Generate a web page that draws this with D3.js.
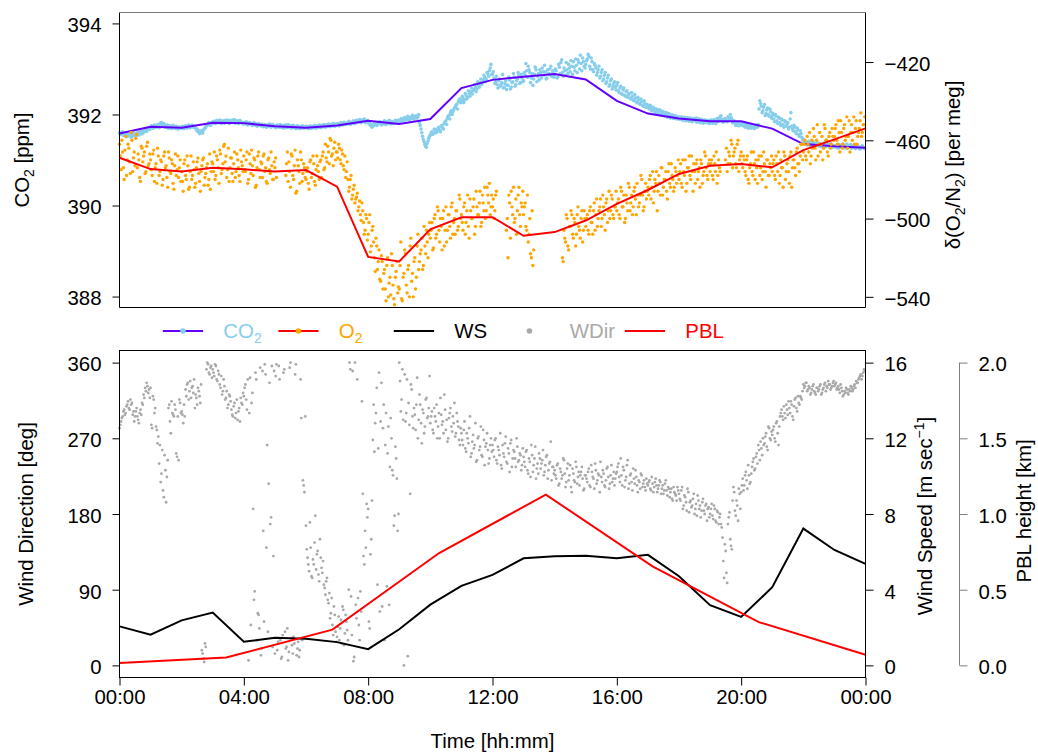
<!DOCTYPE html>
<html>
<head>
<meta charset="utf-8">
<script src="https://cdn.jsdelivr.net/npm/d3@7"></script>
<style>
  body { margin: 0; background: #fff; }
  text { font-family: "Liberation Sans", Arial, Helvetica, sans-serif; }
</style>
</head>
<body>
<svg id="chart" width="1038" height="755"></svg>
<script>
// ---- data -------------------------------------------------------------
// minute series are sampled every 3 minutes starting at 00:00;
// the *Mid arrays hold the readings taken 90 s after each of those samples
const stepMin = 3;
const midOffsetMin = 1.5;

// CO2 mole fraction [ppm]
const co2 = [
391.60,391.58,391.62,391.57,391.55,391.59,391.53,391.56,391.52,391.55,391.58,391.54,391.57,391.61,391.59,391.64,391.62,391.66,391.68,391.70,
391.72,391.74,391.71,391.75,391.73,391.76,391.79,391.82,391.78,391.75,391.73,391.76,391.72,391.74,391.71,391.73,391.70,391.72,391.69,391.71,
391.70,391.73,391.71,391.74,391.72,391.75,391.73,391.76,391.74,391.70,391.68,391.64,391.60,391.62,391.66,391.70,391.75,391.78,391.80,391.79,
391.82,391.84,391.81,391.85,391.83,391.86,391.82,391.84,391.87,391.83,391.85,391.82,391.86,391.84,391.88,391.83,391.85,391.82,391.84,391.81,
391.82,391.80,391.83,391.79,391.81,391.78,391.80,391.77,391.79,391.76,391.78,391.75,391.77,391.74,391.76,391.73,391.75,391.77,391.74,391.76,
391.75,391.73,391.76,391.74,391.72,391.75,391.73,391.76,391.74,391.72,391.75,391.73,391.71,391.74,391.72,391.70,391.73,391.71,391.74,391.72,
391.71,391.73,391.70,391.72,391.74,391.71,391.73,391.75,391.72,391.74,391.76,391.73,391.75,391.77,391.74,391.76,391.78,391.75,391.77,391.79,
391.77,391.79,391.76,391.80,391.78,391.81,391.79,391.82,391.80,391.83,391.81,391.84,391.82,391.85,391.87,391.84,391.88,391.86,391.83,391.85,
391.84,391.82,391.78,391.74,391.79,391.81,391.78,391.82,391.80,391.83,391.79,391.81,391.84,391.80,391.82,391.85,391.81,391.83,391.86,391.84,
391.86,391.89,391.87,391.91,391.88,391.92,391.90,391.94,391.91,391.95,391.93,391.97,391.95,391.82,391.68,391.52,391.40,391.30,391.36,391.48,
391.55,391.62,391.58,391.66,391.61,391.70,391.65,391.74,391.70,391.80,391.86,391.92,391.98,392.04,392.00,392.10,392.16,392.22,392.28,392.34,
392.30,392.36,392.32,392.41,392.38,392.46,392.50,392.45,392.55,392.60,392.56,392.64,392.70,392.66,392.76,392.82,392.78,392.90,392.96,393.10,
392.88,392.80,392.72,392.66,392.74,392.62,392.70,392.58,392.68,392.55,392.64,392.76,392.60,392.72,392.82,392.66,392.78,392.86,392.70,392.80,
392.74,392.86,392.96,393.06,392.92,392.80,392.64,392.88,392.98,392.84,392.76,392.92,393.02,392.86,392.94,392.80,392.90,393.00,392.84,392.96,
392.88,392.96,392.82,393.04,393.14,392.92,393.02,392.86,392.98,393.10,392.94,393.06,393.16,392.96,393.08,393.20,393.00,393.12,393.24,393.06,
393.10,393.22,393.28,393.00,393.16,392.94,393.08,392.86,392.98,392.80,392.92,392.74,392.86,392.68,392.80,392.62,392.74,392.56,392.68,392.60,
392.64,392.52,392.58,392.46,392.54,392.42,392.50,392.38,392.46,392.34,392.40,392.30,392.36,392.26,392.32,392.22,392.28,392.18,392.24,392.16,
392.18,392.12,392.15,392.09,392.13,392.06,392.10,392.04,392.08,392.02,392.05,391.99,392.03,391.97,392.00,391.95,391.98,391.93,391.96,391.92,
391.94,391.90,391.93,391.89,391.92,391.88,391.91,391.87,391.90,391.86,391.89,391.92,391.87,391.90,391.85,391.88,391.84,391.87,391.83,391.86,
391.84,391.87,391.83,391.86,391.82,391.88,391.92,391.97,391.89,391.85,391.88,391.84,391.92,392.00,391.90,391.84,391.80,391.83,391.78,391.81,
391.80,391.76,391.79,391.74,391.77,391.73,391.76,391.72,391.75,391.71,391.74,391.78,392.30,392.18,392.08,392.22,392.02,392.14,391.96,392.06,
391.98,391.90,392.00,391.86,391.94,391.82,391.90,391.78,391.86,391.74,391.82,391.72,392.04,391.68,391.76,391.62,391.70,391.56,391.64,391.50,
391.46,391.40,391.36,391.39,391.34,391.37,391.32,391.36,391.33,391.38,391.31,391.35,391.30,391.34,391.37,391.32,391.35,391.30,391.33,391.29,
391.32,391.28,391.31,391.34,391.29,391.33,391.27,391.30,391.35,391.28,391.31,391.26,391.29,391.33,391.27,391.30,391.25,391.28,391.31,391.27
];
const co2Mid = [
391.56,391.61,391.54,391.59,391.51,391.57,391.55,391.50,391.58,391.53,391.56,391.60,391.55,391.63,391.57,391.61,391.66,391.63,391.71,391.67,
391.75,391.70,391.77,391.72,391.78,391.71,391.81,391.76,391.80,391.72,391.77,391.70,391.75,391.69,391.76,391.70,391.74,391.68,391.73,391.70,
391.74,391.69,391.75,391.70,391.77,391.71,391.76,391.72,391.71,391.66,391.62,391.58,391.64,391.59,391.68,391.73,391.77,391.82,391.76,391.83,
391.85,391.80,391.87,391.82,391.88,391.80,391.86,391.81,391.85,391.88,391.80,391.87,391.83,391.89,391.81,391.86,391.80,391.87,391.83,391.79,
391.79,391.84,391.77,391.82,391.80,391.76,391.82,391.79,391.74,391.80,391.77,391.79,391.73,391.78,391.72,391.77,391.79,391.72,391.78,391.73,
391.71,391.77,391.72,391.78,391.75,391.70,391.77,391.71,391.78,391.73,391.70,391.76,391.74,391.69,391.75,391.73,391.69,391.75,391.70,391.74,
391.74,391.69,391.75,391.70,391.72,391.76,391.70,391.73,391.77,391.71,391.74,391.78,391.72,391.76,391.79,391.73,391.76,391.80,391.74,391.78,
391.80,391.75,391.82,391.77,391.83,391.78,391.80,391.85,391.78,391.82,391.86,391.80,391.87,391.83,391.89,391.82,391.86,391.90,391.82,391.87,
391.80,391.76,391.72,391.77,391.83,391.76,391.80,391.84,391.77,391.81,391.86,391.78,391.82,391.87,391.79,391.84,391.80,391.87,391.82,391.88,
391.84,391.91,391.86,391.93,391.89,391.96,391.88,391.92,391.98,391.90,391.96,391.92,392.00,391.76,391.60,391.45,391.34,391.28,391.42,391.52,
391.60,391.56,391.68,391.60,391.64,391.72,391.62,391.76,391.68,391.84,391.78,391.96,391.90,392.08,392.06,392.14,392.20,392.12,392.32,392.26,
392.40,392.26,392.46,392.34,392.52,392.40,392.58,392.52,392.66,392.50,392.72,392.60,392.78,392.70,392.86,392.72,392.92,392.84,393.02,392.88,
392.94,392.68,392.84,392.58,392.78,392.66,392.88,392.60,392.74,392.64,392.82,392.56,392.70,392.90,392.62,392.74,392.92,392.68,392.88,392.72,
392.92,393.12,392.82,392.98,392.70,392.90,392.78,393.04,392.72,392.90,392.98,392.80,392.94,393.08,392.78,392.98,392.88,393.06,392.92,392.82,
393.00,392.80,393.10,392.90,393.20,392.84,392.96,393.14,392.90,393.02,393.18,392.88,393.04,393.22,392.92,393.14,393.30,392.96,393.16,393.02,
393.18,393.32,393.06,393.24,392.98,393.12,393.02,392.92,393.06,392.84,392.98,392.78,392.92,392.72,392.86,392.66,392.78,392.62,392.72,392.54,
392.70,392.48,392.62,392.44,392.58,392.40,392.52,392.44,392.36,392.48,392.32,392.44,392.28,392.38,392.24,392.34,392.20,392.30,392.16,392.22,
392.14,392.20,392.08,392.16,392.02,392.12,392.00,392.10,391.98,392.07,391.97,392.04,391.94,392.02,391.92,391.99,391.91,391.97,391.90,391.95,
391.89,391.95,391.87,391.94,391.86,391.93,391.85,391.92,391.84,391.91,391.86,391.83,391.90,391.82,391.89,391.81,391.88,391.82,391.87,391.80,
391.88,391.81,391.89,391.80,391.91,391.85,391.95,391.87,391.83,391.91,391.86,391.95,391.88,391.93,391.82,391.86,391.76,391.82,391.75,391.79,
391.77,391.82,391.72,391.78,391.70,391.76,391.70,391.77,391.69,391.76,391.72,392.12,392.24,392.04,392.16,391.98,392.10,392.00,392.12,391.92,
392.02,391.84,391.96,391.80,391.92,391.76,391.88,391.72,391.84,391.78,391.68,391.90,391.74,391.64,391.72,391.58,391.66,391.52,391.58,391.44,
391.42,391.37,391.33,391.41,391.31,391.35,391.39,391.30,391.35,391.32,391.36,391.29,391.33,391.37,391.29,391.34,391.31,391.36,391.28,391.32,
391.29,391.33,391.26,391.32,391.28,391.35,391.30,391.26,391.32,391.29,391.34,391.28,391.32,391.25,391.31,391.28,391.24,391.30,391.27,391.25
];

// delta(O2/N2) [per meg]; null = no measurement
const o2 = [
-462,-475,-466,-480,-458,-470,-464,-477,-460,-469,-473,-457,-467,-479,-463,-471,-466,-476,-461,-472,
-470,-478,-465,-474,-482,-468,-476,-471,-480,-466,-473,-484,-469,-477,-472,-485,-467,-475,-479,-470,
-476,-486,-470,-480,-473,-484,-468,-478,-475,-482,-471,-477,-486,-473,-469,-479,-474,-483,-467,-476,
-472,-466,-478,-470,-482,-467,-475,-463,-471,-479,-464,-474,-469,-481,-466,-476,-470,-478,-465,-473,
-468,-476,-466,-480,-472,-465,-478,-470,-483,-468,-475,-471,-479,-467,-474,-482,-469,-477,-473,-480,
-474,-479,null,null,null,null,null,-478,-466,-471,-484,-468,-480,-465,-486,-473,-482,-470,-477,-474,
-480,-474,-485,-470,-477,-472,-483,-468,-476,-471,-479,-466,-474,-469,-463,-472,-460,-467,-464,-470,
-466,-462,-470,-465,-473,-468,-476,-480,-484,-478,-488,-483,-490,-487,-494,-498,-492,-502,-506,-500,
-508,-498,-514,-504,-520,-510,-526,-516,-532,-522,-528,-536,-524,-540,-530,-518,-534,-544,-527,-538,
-536,-512,-542,-528,-518,-538,-524,-514,-532,-540,-520,-530,-508,-522,-516,-526,-504,-518,-512,-508,
-510,-502,-515,-498,-508,-496,-512,-504,-500,-514,-494,-506,-498,-510,-492,-502,-508,-496,-504,-490,
-498,-506,-492,-502,-488,-510,-496,-500,-490,-504,-494,-498,-486,-502,-492,-484,-496,-488,-482,-494,
-494,-500,-488,null,null,null,null,null,null,-506,-520,-492,-486,-498,-502,-490,-496,-484,-504,-494,
-498,-492,-506,-512,-500,-520,-524,null,null,null,null,null,null,null,null,null,null,null,null,null,
null,null,null,null,null,-520,-506,-512,-500,-516,-504,-498,-510,-502,-508,-494,-506,-500,-512,-496,
-504,-498,-508,-494,-502,-496,-506,-490,-500,-494,-504,-488,-498,-492,-502,-486,-496,-490,-500,-494,
-496,-490,-500,-486,-494,-502,-488,-496,-484,-492,-498,-486,-490,-482,-494,-488,-480,-496,-486,-490,
-484,-480,-490,-476,-486,-482,-496,-478,-488,-474,-484,-480,-486,-476,-482,-472,-480,-484,-476,-478,
-480,-472,-484,-476,-470,-482,-474,-478,-468,-486,-476,-472,-480,-474,-470,-482,-476,-468,-478,-472,
-476,-470,-480,-472,-466,-478,-474,null,null,null,-470,-476,-466,-472,-462,-468,-464,-474,-460,-470,
-466,-474,-470,-478,-468,-482,-472,-476,-466,-480,-474,-470,-478,-468,-476,-472,-484,-470,-478,-474,
-476,-470,-480,-472,-466,-478,-474,-484,-468,-476,-470,-482,-466,-474,-470,-478,-464,-472,-468,-462,
-466,-460,-470,-462,-456,-468,-464,-458,-470,-452,-462,-466,-458,-464,-454,-460,-468,-456,-462,-458,
-458,-452,-462,-456,-450,-464,-454,-460,-448,-458,-466,-452,-456,-462,-450,-458,-454,-446,-456,-452
];
const o2Mid = [
-468,-460,-474,-465,-478,-462,-471,-456,-476,-466,-459,-474,-470,-481,-464,-468,-477,-463,-473,-467,
-475,-467,-481,-472,-464,-478,-470,-483,-468,-474,-479,-466,-476,-470,-482,-473,-478,-468,-474,-481,
-481,-472,-478,-468,-485,-476,-480,-471,-484,-474,-469,-481,-476,-470,-483,-477,-472,-480,-485,-471,
-476,-480,-468,-474,-465,-477,-472,-462,-468,-475,-481,-469,-477,-472,-479,-467,-474,-481,-471,-476,
-475,-470,-482,-467,-477,-473,-469,-484,-474,-466,-479,-472,-468,-476,-481,-470,-475,-466,-480,-471,
-469,null,null,null,null,null,null,-472,-481,-476,-467,-478,-473,-487,-470,-476,-466,-481,-472,-479,
-476,-482,-471,-479,-468,-481,-475,-473,-480,-470,-468,-475,-462,-471,-466,-459,-468,-473,-461,-466,
-469,-464,-472,-467,-475,-479,-471,-486,-480,-490,-485,-492,-489,-496,-491,-501,-496,-508,-498,-511,
-502,-517,-506,-512,-527,-514,-522,-531,-519,-536,-526,-542,-520,-533,-539,-524,-541,-530,-522,-535,
-524,-541,-530,-516,-534,-526,-540,-510,-528,-522,-536,-514,-526,-518,-510,-524,-514,-506,-520,-502,
-506,-516,-500,-510,-494,-506,-500,-516,-496,-506,-512,-498,-504,-494,-508,-500,-496,-506,-488,-500,
-502,-494,-508,-496,-504,-490,-500,-494,-508,-486,-498,-492,-504,-488,-496,-500,-484,-492,-498,-488,
-490,-496,-486,null,null,null,null,null,null,-500,-488,-510,-494,-484,-500,-508,-488,-498,-492,-486,
-494,-504,-488,-508,-518,-496,-516,null,null,null,null,null,null,null,null,null,null,null,null,null,
null,null,null,null,null,-522,-510,-498,-514,-504,-496,-508,-500,-514,-498,-504,-510,-496,-506,-500,
-500,-506,-496,-502,-508,-492,-498,-504,-496,-490,-500,-494,-506,-490,-496,-500,-488,-498,-494,-486,
-492,-498,-484,-494,-488,-500,-492,-482,-496,-488,-494,-484,-498,-488,-492,-478,-488,-494,-482,-486,
-488,-478,-484,-492,-480,-476,-486,-482,-474,-488,-480,-476,-490,-472,-484,-478,-486,-474,-482,-470,
-476,-482,-470,-478,-486,-474,-468,-480,-476,-472,-482,-470,-476,-484,-472,-478,-466,-474,-480,-470,
-472,-478,-468,-476,-482,-470,-476,null,null,null,-464,-472,-468,-460,-474,-466,-472,-462,-476,-468,
-472,-468,-476,-470,-480,-474,-466,-478,-472,-470,-482,-468,-474,-480,-466,-476,-470,-478,-472,-468,
-472,-478,-468,-476,-482,-470,-474,-466,-480,-472,-476,-468,-484,-470,-474,-466,-472,-476,-462,-470,
-462,-468,-458,-466,-472,-460,-454,-464,-460,-468,-456,-462,-470,-452,-460,-466,-458,-464,-454,-460,
-454,-460,-450,-466,-456,-462,-452,-458,-464,-450,-456,-460,-448,-454,-462,-456,-450,-458,-452,-448
];

// wind direction [deg]
const wdir = [
282,290,296,304,300,310,306,316,312,302,296,306,292,300,298,310,318,326,332,328,
330,282,316,306,280,272,262,228,208,250,194,244,310,276,300,296,304,248,244,312,
302,288,296,320,336,326,318,332,340,322,310,326,312,18,8,26,352,358,346,356,
352,344,356,338,346,330,322,340,316,326,310,320,304,296,312,300,292,306,318,310,
320,334,304,6,342,312,186,88,340,62,44,12,350,52,346,262,216,168,356,130,
14,358,28,340,8,36,352,20,44,16,360,24,34,346,12,28,18,294,220,206,
166,128,112,140,104,120,178,132,108,150,116,124,92,100,78,86,62,48,70,40,
34,58,44,26,66,38,52,30,360,82,350,10,72,340,48,88,314,130,160,192,
186,44,150,268,254,300,96,348,290,70,310,262,94,284,236,270,226,178,246,160,
360,302,352,0,290,340,312,204,328,282,298,310,270,322,288,304,276,316,294,306,
288,302,276,296,310,284,270,298,290,322,280,266,294,306,278,288,272,300,284,262,
276,262,290,254,270,282,248,266,258,288,244,272,260,250,280,238,264,256,246,270,
262,248,270,240,256,276,234,252,264,242,258,230,268,246,254,236,260,244,250,238,
248,236,256,228,242,262,230,246,222,240,252,234,244,226,238,250,232,242,220,236,
232,222,240,216,230,226,244,212,234,220,238,206,228,218,236,224,214,230,222,210,
226,218,234,212,230,222,240,216,228,206,224,232,214,220,236,210,226,218,230,222,
230,240,218,226,236,212,224,244,216,228,208,222,232,214,220,210,226,216,212,222,
214,220,208,216,212,222,206,214,218,210,204,216,208,212,200,210,196,206,202,212,
204,196,212,190,200,184,206,194,188,198,180,192,202,186,176,194,184,190,172,188,
180,192,174,186,170,182,176,168,152,104,136,98,176,150,138,212,184,196,172,204,
206,222,214,230,210,226,218,236,246,234,252,262,244,258,270,264,276,256,282,268,
274,284,266,290,262,296,304,292,300,310,298,306,314,296,308,318,302,312,320,316,
334,332,336,328,330,324,332,326,322,330,328,334,324,330,336,332,338,334,330,336,
332,336,330,328,334,326,322,324,328,322,326,330,328,334,338,336,342,346,344,352
];
const wdirMid = [
286,294,302,298,308,314,304,310,298,290,302,296,288,304,312,322,330,336,324,318,
286,320,300,284,264,240,218,256,200,232,224,306,290,314,298,310,252,296,316,300,
298,310,328,334,316,338,330,324,306,318,330,320,334,14,4,22,360,348,354,342,
348,358,340,350,334,344,326,332,318,306,322,314,298,308,294,316,302,290,312,324,
330,316,340,300,48,324,78,348,30,60,354,20,160,358,140,40,336,176,22,350,
344,18,356,30,10,348,40,22,6,354,32,14,26,358,20,10,340,30,214,296,
138,120,170,106,126,146,114,136,100,128,110,96,84,104,74,56,80,36,60,28,
46,30,54,70,24,60,42,90,352,36,5,360,56,80,30,64,204,120,140,176,
52,132,196,310,288,330,258,64,336,282,30,300,252,72,294,232,166,260,222,180,
338,316,292,346,300,11,286,334,296,306,280,342,292,310,264,300,284,318,296,344,
296,280,306,290,270,300,318,286,276,304,292,270,300,284,296,312,276,290,268,282,
268,280,258,276,264,296,252,274,262,242,270,256,284,248,268,260,276,240,262,254,
256,268,244,260,250,238,262,248,272,240,252,264,236,256,246,270,242,252,232,258,
242,254,232,246,224,250,238,260,234,228,246,240,256,230,248,222,240,266,236,228,
226,238,214,234,222,246,228,218,240,226,212,234,220,242,216,230,226,236,208,226,
222,230,214,238,224,210,232,220,226,242,218,228,212,234,224,216,238,222,214,228,
236,224,246,214,232,220,238,210,226,218,234,216,224,206,218,228,212,220,208,216,
218,210,224,206,218,214,210,220,204,214,208,220,202,210,206,198,212,204,196,208,
198,208,186,202,194,210,182,196,190,204,186,178,196,190,184,198,180,192,186,176,
186,178,190,172,184,168,180,164,124,144,110,168,182,142,196,206,178,190,210,186,
214,208,226,220,238,216,228,242,232,248,240,256,266,250,262,272,260,284,270,278,
280,270,288,276,284,300,296,308,294,304,314,300,310,292,316,306,320,310,318,326,
330,336,326,332,322,328,334,324,330,326,332,322,328,334,326,330,334,328,332,338,
334,328,332,324,330,320,326,330,324,328,332,326,332,330,336,340,344,340,348,350
];

// hourly means, 00:00 ... 24:00
const co2Hourly = [391.58,391.73,391.71,391.82,391.81,391.74,391.71,391.76,391.86,391.79,391.90,392.58,392.76,
                   392.83,392.89,392.77,392.30,392.02,391.91,391.85,391.85,391.69,391.35,391.30,391.27];
const o2Hourly = [-468.9,-474.7,-476.0,-474.0,-474.8,-476.0,-475.2,-483.7,-519.6,-521.9,-505.5,-499.3,-499.3,
                  -508.8,-506.9,-501.0,-492.5,-485.4,-477.2,-473.0,-472.1,-473.8,-465.0,-459.5,-453.9];
const wsHourly = [2.06,1.62,2.38,2.79,1.25,1.46,1.41,1.23,0.86,1.91,3.21,4.20,4.78,
                  5.66,5.77,5.80,5.66,5.84,4.71,3.18,2.56,4.13,7.23,6.10,5.36];

// boundary-layer height [km]
const pblTimes = ["00:00","03:26","06:51","10:17","13:43","17:09","20:34","24:00"];
const pblKm = [0.015,0.052,0.236,0.742,1.128,0.654,0.286,0.070];

// axis ticks
const hourTicks = [0, 4, 8, 12, 16, 20, 24];
const hourLabels = ["00:00","04:00","08:00","12:00","16:00","20:00","00:00"];
const co2Ticks = [388, 390, 392, 394];
const o2Ticks = [-540, -500, -460, -420];
const dirTicks = [0, 90, 180, 270, 360];
const wsTicks = [0, 4, 8, 12, 16];
const pblTicks = [0, 0.5, 1, 1.5, 2];

// ---- layout -----------------------------------------------------------
const FS = 20.4;
const L = 119.5, R = 865.5;
const top1 = 12.5, bot1 = 307.5;
const top2 = 350.5, bot2 = 677.5;

const col = {
  co2Pt: "#87CEEB", co2Ln: "#6200FF",
  o2Pt: "#FFA500", o2Ln: "#FF0000",
  ws: "#000000", dir: "#A9A9A9", pbl: "#FF0000"
};

const svg = d3.select("#chart");
const parseHM = s => { const [h, m] = s.split(":").map(Number); return h + m / 60; };

// ---- scales -----------------------------------------------------------
const x = d3.scaleLinear().domain([0, 24]).range([L, R]);
const yCO2 = d3.scaleLinear().domain([387.76, 394.24]).range([bot1, top1]);
const yO2 = d3.scaleLinear().domain([-545.45, -394.68]).range([bot1, top1]);
const yDir = d3.scaleLinear().domain([-14.4, 374.4]).range([bot2, top2]);
const yWS = d3.scaleLinear().domain([-0.64, 16.64]).range([bot2, top2]);
const yPBL = d3.scaleLinear().domain([-0.08, 2.08]).range([bot2, top2]);

const pts = (arr, offMin = 0) => arr.map((v, i) => ({ h: (i * stepMin + offMin) / 60, v }))
  .filter(d => d.v !== null);
const hourly = arr => arr.map((v, i) => ({ h: i, v }));

function dots(g, data, y, r, fill) {
  g.append("g").selectAll("circle").data(data).join("circle")
    .attr("cx", d => x(d.h)).attr("cy", d => y(d.v)).attr("r", r).attr("fill", fill);
}

// ---- top panel: CO2 and O2 --------------------------------------------
const gTop = svg.append("g");
dots(gTop, pts(co2).concat(pts(co2Mid, midOffsetMin)), yCO2, 1.8, col.co2Pt);
gTop.append("path").datum(hourly(co2Hourly))
  .attr("d", d3.line().x(d => x(d.h)).y(d => yCO2(d.v)))
  .attr("fill", "none").attr("stroke", col.co2Ln).attr("stroke-width", 2);
dots(gTop, pts(o2).concat(pts(o2Mid, midOffsetMin)), yO2, 1.7, col.o2Pt);
gTop.append("path").datum(hourly(o2Hourly))
  .attr("d", d3.line().x(d => x(d.h)).y(d => yO2(d.v)))
  .attr("fill", "none").attr("stroke", col.o2Ln).attr("stroke-width", 2);

// frame
gTop.append("path").attr("d", `M${L},${top1}V${bot1}H${R}V${top1}`)
  .attr("fill", "none").attr("stroke", "#000");
gTop.append("line").attr("x1", L).attr("x2", R).attr("y1", top1).attr("y2", top1)
  .attr("stroke", "#777");

function styleAxis(g, dy) {
  g.select(".domain").remove();
  g.attr("font-size", FS).attr("font-family", null);
  g.selectAll(".tick line").attr("stroke", "#000");
  g.selectAll(".tick text").attr("fill", "#000");
  if (dy) g.selectAll(".tick text").attr("dy", dy);
}

gTop.append("g").attr("transform", `translate(${L},0)`)
  .call(d3.axisLeft(yCO2).tickValues(co2Ticks).tickSize(7).tickPadding(11).tickFormat(d3.format("d")))
  .call(g => styleAxis(g, "0.41em"));
gTop.append("g").attr("transform", `translate(${R},0)`)
  .call(d3.axisRight(yO2).tickValues(o2Ticks).tickSize(8).tickPadding(11).tickFormat(d3.format("d")))
  .call(g => styleAxis(g, "0.41em"));

// axis titles (rotated)
function vTitle(xPos, yPos, parts) {
  const t = svg.append("text")
    .attr("transform", `translate(${xPos},${yPos}) rotate(-90)`)
    .attr("text-anchor", "middle").attr("font-size", FS).attr("fill", "#000");
  parts.forEach(p => {
    const s = t.append("tspan").text(p.t);
    if (p.dy) s.attr("dy", p.dy);
    if (p.fs) s.attr("font-size", p.fs);
  });
  return t;
}
vTitle(29.3, 160, [{ t: "CO" }, { t: "2", dy: 5, fs: 14 }, { t: " [ppm]", dy: -5 }]);
vTitle(960, 165, [{ t: "δ(O" }, { t: "2", dy: 5, fs: 14 }, { t: "/N", dy: -5 }, { t: "2", dy: 5, fs: 14 }, { t: ") [per meg]", dy: -5 }]);

// ---- legend ------------------------------------------------------------
const legendItems = [
  { label: "CO", sub: "2", line: col.co2Ln, dot: col.co2Pt, text: col.co2Pt },
  { label: "O", sub: "2", line: col.o2Ln, dot: col.o2Pt, text: col.o2Pt },
  { label: "WS", line: col.ws, text: "#000" },
  { label: "WDir", dot: col.dir, text: col.dir },
  { label: "PBL", line: col.pbl, text: col.pbl }
];
const legY = 331, legX0 = 162.8, legStep = 115.5, segW = 40.3;
const gLeg = svg.append("g");
legendItems.forEach((it, i) => {
  const x0 = legX0 + i * legStep;
  if (it.line) gLeg.append("line").attr("x1", x0).attr("x2", x0 + segW)
    .attr("y1", legY).attr("y2", legY).attr("stroke", it.line).attr("stroke-width", 2);
  if (it.dot) gLeg.append("circle").attr("cx", x0 + segW / 2).attr("cy", legY)
    .attr("r", 2.8).attr("fill", it.dot);
  const t = gLeg.append("text").attr("x", x0 + 60.5).attr("y", legY + 7.3)
    .attr("font-size", FS).attr("fill", it.text);
  t.append("tspan").text(it.label);
  if (it.sub) t.append("tspan").text(it.sub).attr("font-size", 14).attr("dy", 5);
});

// ---- bottom panel: wind and PBL ----------------------------------------
const gBot = svg.append("g");
dots(gBot, pts(wdir).concat(pts(wdirMid, midOffsetMin)), yDir, 1.4, col.dir);
gBot.append("path").datum(hourly(wsHourly))
  .attr("d", d3.line().x(d => x(d.h)).y(d => yWS(d.v)))
  .attr("fill", "none").attr("stroke", col.ws).attr("stroke-width", 2);
gBot.append("path").datum(pblTimes.map((t, i) => ({ h: parseHM(t), v: pblKm[i] })))
  .attr("d", d3.line().x(d => x(d.h)).y(d => yPBL(d.v)))
  .attr("fill", "none").attr("stroke", col.pbl).attr("stroke-width", 2);

gBot.append("rect").attr("x", L).attr("y", top2).attr("width", R - L).attr("height", bot2 - top2)
  .attr("fill", "none").attr("stroke", "#000");

gBot.append("g").attr("transform", `translate(0,${bot2})`)
  .call(d3.axisBottom(x).tickValues(hourTicks).tickSize(8).tickPadding(4).tickFormat((d, i) => hourLabels[i]))
  .call(g => styleAxis(g));
gBot.append("g").attr("transform", `translate(${L},0)`)
  .call(d3.axisLeft(yDir).tickValues(dirTicks).tickSize(7).tickPadding(11).tickFormat(d3.format("d")))
  .call(g => styleAxis(g, "0.41em"));
gBot.append("g").attr("transform", `translate(${R},0)`)
  .call(d3.axisRight(yWS).tickValues(wsTicks).tickSize(8).tickPadding(11).tickFormat(d3.format("d")))
  .call(g => styleAxis(g, "0.41em"));

const pblX = 959.5;
gBot.append("g").attr("transform", `translate(${pblX},0)`)
  .call(d3.axisRight(yPBL).tickValues(pblTicks).tickSize(8).tickPadding(11).tickFormat(d3.format(".1f")))
  .call(g => {
    styleAxis(g, "0.41em");
    g.selectAll(".tick line").attr("stroke", "#7f7f7f");
    g.append("line").attr("x1", 0).attr("x2", 0)
      .attr("y1", yPBL(0)).attr("y2", yPBL(2)).attr("stroke", "#7f7f7f");
  });

vTitle(32.7, 514, [{ t: "Wind Direction [deg]" }]);
vTitle(932, 516, [{ t: "Wind Speed [m sec" }, { t: "−1", dy: -8, fs: 14 }, { t: "]", dy: 8 }]);
vTitle(1031, 511, [{ t: "PBL height [km]" }]);

svg.append("text").attr("x", (L + R) / 2).attr("y", 748)
  .attr("text-anchor", "middle").attr("font-size", FS).text("Time [hh:mm]");
</script>
</body>
</html>
